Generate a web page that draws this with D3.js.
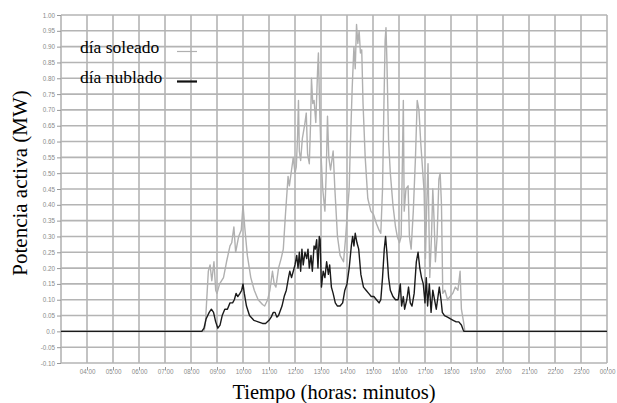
<!DOCTYPE html>
<html>
<head>
<meta charset="utf-8">
<script src="https://cdn.jsdelivr.net/npm/d3@7/dist/d3.min.js"></script>
<style>
  html, body { margin: 0; padding: 0; background: #fff; }
  svg { display: block; }
</style>
</head>
<body>
<svg id="chart" width="617" height="403"></svg>
<script>
// ---- data ----
const yTickLabels = ["-0.10","-0.05","0.0","0.05","0.10","0.15","0.20","0.25","0.30","0.35","0.40","0.45","0.50","0.55","0.60","0.65","0.70","0.75","0.80","0.85","0.90","0.95","1.00"];
const xTickLabels = ["04:00","05:00","06:00","07:00","08:00","09:00","10:00","11:00","12:00","13:00","14:00","15:00","16:00","17:00","18:00","19:00","20:00","21:00","22:00","23:00","00:00"];
const seriesNames = ["día soleado", "día nublado"];

const sunnyTimes = ["03:00","08:30","08:33","08:40","08:44","08:48","08:53","08:57","09:00","09:06","09:15","09:22","09:30","09:34","09:39","09:43","09:50","09:56","10:00","10:04","10:10","10:18","10:26","10:35","10:45","10:50","10:57","11:02","11:08","11:12","11:16","11:22","11:28","11:33","11:38","11:42","11:44","11:47","11:52","11:56","12:00","12:03","12:06","12:08","12:10","12:13","12:17","12:22","12:26","12:29","12:33","12:36","12:38","12:41","12:44","12:48","12:52","12:54","12:57","13:00","13:04","13:09","13:12","13:15","13:18","13:22","13:28","13:32","13:38","13:44","13:48","13:52","13:57","14:00","14:05","14:08","14:12","14:16","14:19","14:22","14:25","14:28","14:31","14:34","14:37","14:42","14:48","14:55","15:01","15:08","15:14","15:18","15:22","15:25","15:28","15:30","15:32","15:36","15:40","15:46","15:52","15:56","16:01","16:05","16:08","16:10","16:12","16:16","16:21","16:24","16:28","16:33","16:38","16:42","16:46","16:50","16:55","16:58","17:01","17:04","17:07","17:11","17:15","17:18","17:21","17:24","17:28","17:32","17:35","17:38","17:41","17:46","17:52","17:58","18:04","18:10","18:16","18:21","18:24","18:29","18:32","24:00"];
const sunnyValues = [0,0,0.02,0.19,0.21,0.16,0.22,0.13,0.12,0.15,0.17,0.22,0.27,0.28,0.33,0.25,0.30,0.32,0.40,0.33,0.24,0.17,0.13,0.10,0.085,0.08,0.10,0.13,0.19,0.15,0.14,0.20,0.23,0.26,0.37,0.45,0.49,0.46,0.51,0.55,0.50,0.52,0.62,0.73,0.57,0.54,0.61,0.65,0.69,0.56,0.53,0.66,0.80,0.72,0.73,0.66,0.82,0.88,0.70,0.56,0.45,0.38,0.50,0.68,0.55,0.51,0.57,0.45,0.30,0.24,0.23,0.22,0.30,0.36,0.45,0.60,0.77,0.90,0.83,0.97,0.91,0.95,0.88,0.89,0.72,0.55,0.42,0.38,0.37,0.34,0.32,0.31,0.45,0.70,0.92,0.96,0.86,0.60,0.50,0.40,0.33,0.30,0.28,0.30,0.55,0.73,0.38,0.45,0.46,0.30,0.26,0.38,0.55,0.73,0.70,0.60,0.50,0.44,0.23,0.40,0.53,0.17,0.30,0.45,0.35,0.22,0.30,0.48,0.50,0.40,0.12,0.13,0.10,0.11,0.12,0.14,0.13,0.19,0.07,0.03,0,0];

const cloudyTimes = ["03:00","08:25","08:30","08:35","08:42","08:47","08:52","08:57","09:02","09:07","09:12","09:18","09:24","09:30","09:36","09:40","09:44","09:48","09:53","09:57","10:00","10:03","10:08","10:15","10:25","10:35","10:45","10:52","11:00","11:05","11:10","11:14","11:18","11:22","11:30","11:35","11:40","11:45","11:48","11:52","11:56","12:00","12:04","12:07","12:10","12:13","12:16","12:19","12:23","12:27","12:30","12:33","12:37","12:40","12:44","12:47","12:50","12:53","12:56","12:58","13:01","13:05","13:09","13:13","13:17","13:20","13:24","13:28","13:33","13:38","13:44","13:50","13:55","14:00","14:05","14:10","14:13","14:16","14:19","14:23","14:27","14:32","14:38","14:44","14:50","14:56","15:02","15:08","15:14","15:18","15:22","15:26","15:29","15:32","15:36","15:40","15:46","15:52","15:58","16:03","16:06","16:10","16:13","16:18","16:22","16:26","16:30","16:35","16:40","16:44","16:48","16:52","16:56","17:00","17:03","17:06","17:10","17:14","17:18","17:22","17:26","17:30","17:33","17:37","17:40","17:45","17:52","17:58","18:05","18:12","18:18","18:24","18:28","18:30","24:00"];
const cloudyValues = [0,0,0.01,0.04,0.06,0.07,0.06,0.03,0.01,0.02,0.05,0.07,0.07,0.09,0.09,0.10,0.12,0.11,0.12,0.13,0.15,0.12,0.08,0.05,0.035,0.03,0.025,0.025,0.035,0.045,0.06,0.06,0.045,0.05,0.08,0.11,0.13,0.17,0.19,0.17,0.19,0.21,0.24,0.20,0.25,0.19,0.26,0.21,0.25,0.23,0.26,0.20,0.24,0.19,0.27,0.26,0.29,0.20,0.30,0.29,0.14,0.19,0.17,0.22,0.18,0.21,0.14,0.12,0.09,0.08,0.08,0.09,0.13,0.15,0.20,0.27,0.30,0.27,0.31,0.28,0.26,0.18,0.14,0.13,0.12,0.11,0.11,0.10,0.09,0.10,0.17,0.26,0.30,0.25,0.17,0.13,0.11,0.10,0.10,0.15,0.08,0.11,0.07,0.10,0.14,0.09,0.08,0.12,0.22,0.25,0.20,0.17,0.15,0.09,0.17,0.08,0.15,0.06,0.13,0.10,0.07,0.11,0.14,0.10,0.06,0.05,0.045,0.04,0.035,0.03,0.03,0.02,0.005,0,0];

// ---- helpers ----
const toHours = s => { const [h, m] = s.split(":").map(Number); return h + m / 60; };
const xTickHours = xTickLabels.map(s => { const h = toHours(s); return h === 0 ? 24 : h; });
const yTickValues = yTickLabels.map(Number);

const svg = d3.select("#chart");
const pLeft = 61, pRight = 607, pTop = 15, pBottom = 363;

const x = d3.scaleLinear().domain([3, 24]).range([pLeft, pRight]);
const y = d3.scaleLinear().domain([-0.10, 1.00]).range([pBottom, pTop]);

// grid
const grid = svg.append("g");
grid.selectAll("line.h").data(yTickValues).enter().append("line")
  .attr("x1", pLeft).attr("x2", pRight)
  .attr("y1", d => y(d)).attr("y2", d => y(d))
  .attr("stroke", "#b4b4b4").attr("stroke-width", 1.6);
grid.selectAll("line.v").data([3].concat(xTickHours)).enter().append("line")
  .attr("x1", d => x(d)).attr("x2", d => x(d))
  .attr("y1", pTop).attr("y2", pBottom)
  .attr("stroke", "#b4b4b4").attr("stroke-width", 1.6);

// y axis
const yAxis = d3.axisLeft(y).tickValues(yTickValues)
  .tickFormat((d, i) => yTickLabels[i]).tickSize(4).tickPadding(2);
const yg = svg.append("g").attr("transform", `translate(${pLeft},0)`).call(yAxis);
yg.select(".domain").remove();
yg.selectAll(".tick line").attr("stroke", "#999");
yg.selectAll("text").attr("fill", "#8a8a8a").style("font-family", "Liberation Sans, Arial, sans-serif").style("font-size", "6.3px");

// x axis
const xAxis = d3.axisBottom(x).tickValues(xTickHours)
  .tickFormat((d, i) => xTickLabels[i]).tickSize(3).tickPadding(0);
const xg = svg.append("g").attr("transform", `translate(0,${pBottom + 4})`).call(xAxis);
xg.select(".domain").remove();
xg.selectAll(".tick line").attr("stroke", "#999");
xg.selectAll("text").attr("fill", "#8a8a8a").style("font-family", "Liberation Sans, Arial, sans-serif").style("font-size", "6.3px");

// lines
const line = d3.line().x(d => x(d[0])).y(d => y(d[1]));
const sunny = sunnyTimes.map((t, i) => [toHours(t), sunnyValues[i]]);
const cloudy = cloudyTimes.map((t, i) => [toHours(t), cloudyValues[i]]);

svg.append("path").datum(sunny).attr("d", line)
  .attr("fill", "none").attr("stroke", "#b0b0b0").attr("stroke-width", 1.4).attr("stroke-linejoin", "round");
svg.append("path").datum(cloudy).attr("d", line)
  .attr("fill", "none").attr("stroke", "#1a1a1a").attr("stroke-width", 1.4).attr("stroke-linejoin", "round");

// legend
const legendColors = ["#b0b0b0", "#111"];
const lg = svg.append("g");
seriesNames.forEach((name, i) => {
  const by = 53 + i * 30;
  lg.append("text").attr("x", 80).attr("y", by).text(name)
    .style("font-family", "'Liberation Serif', 'Times New Roman', serif").style("font-size", "17.5px").attr("fill", "#000");
  lg.append("line").attr("x1", 177).attr("x2", 197).attr("y1", by - 1.5).attr("y2", by - 1.5)
    .attr("stroke", legendColors[i]).attr("stroke-width", i === 0 ? 1.2 : 2.2);
});

// axis titles
svg.append("text").attr("x", 334).attr("y", 399).attr("text-anchor", "middle")
  .style("font-family", "'Liberation Serif', 'Times New Roman', serif").style("font-size", "20.5px")
  .text("Tiempo (horas: minutos)");
svg.append("text").attr("transform", "translate(27,183) rotate(-90)").attr("text-anchor", "middle")
  .style("font-family", "'Liberation Serif', 'Times New Roman', serif").style("font-size", "21px")
  .text("Potencia activa (MW)");
</script>
</body>
</html>
